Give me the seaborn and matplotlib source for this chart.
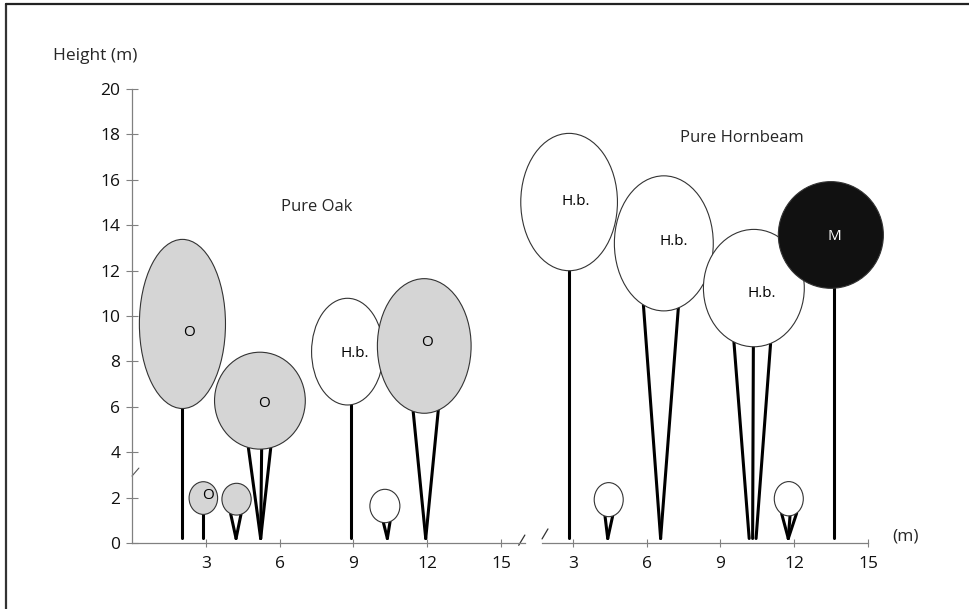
import numpy as np
import pandas as pd
import matplotlib
matplotlib.use('Agg')
import matplotlib.pyplot as plt
from matplotlib.patches import Ellipse
from matplotlib.lines import Line2D
import seaborn as sns

# Pure oak stand: crowns (centre, width, height in m), species, labels, stems
oak_crown_x = [2.05, 2.9, 4.25, 5.2, 8.76, 10.28, 11.88]
oak_crown_y = [9.65, 1.98, 1.93, 6.27, 8.43, 1.63, 8.68]
oak_crown_w = [3.5, 1.16, 1.19, 3.69, 2.92, 1.22, 3.81]
oak_crown_h = [7.45, 1.44, 1.4, 4.27, 4.7, 1.47, 5.93]
oak_species = ['oak', 'oak', 'oak', 'oak', 'hornbeam', 'hornbeam', 'oak']
oak_labels = ['O', 'O', '', 'O', 'H.b.', '', 'O']
oak_label_x = [2.3, 3.08, None, 5.37, 9.07, None, 11.99]
oak_label_y = [9.26, 2.08, None, 6.15, 8.36, None, 8.82]
oak_stem_top = [[2.02], [2.9], [4.01, 4.43], [4.73, 5.27, 5.64], [8.89], [10.22, 10.49], [11.43, 12.45]]
oak_stem_base = [[2.02], [2.9], [4.23, 4.23], [5.23, 5.23, 5.23], [8.89], [10.38, 10.38], [11.94, 11.94]]

# Pure hornbeam stand
hb_crown_x = [2.85, 4.46, 6.7, 10.36, 11.78, 13.49]
hb_crown_y = [15.02, 1.91, 13.2, 11.23, 1.95, 13.57]
hb_crown_w = [3.93, 1.18, 4.02, 4.1, 1.18, 4.27]
hb_crown_h = [6.05, 1.5, 5.95, 5.17, 1.51, 4.7]
hb_species = ['hornbeam', 'hornbeam', 'hornbeam', 'hornbeam', 'hornbeam', 'maple']
hb_labels = ['H.b.', '', 'H.b.', 'H.b.', '', 'M']
hb_label_x = [3.13, None, 7.09, 10.68, None, 13.62]
hb_label_y = [15.04, None, 13.27, 11.0, None, 13.52]
hb_stem_top = [[2.86], [4.31, 4.62], [5.87, 7.29], [9.55, 10.34, 11.04], [11.49, 11.83, 12.10], [13.63]]
hb_stem_base = [[2.86], [4.42, 4.42], [6.57, 6.57], [10.17, 10.31, 10.45], [11.76, 11.76, 11.76], [13.63]]

x_ticks = [3, 6, 9, 12, 15]
y_ticks = [0, 2, 4, 6, 8, 10, 12, 14, 16, 18, 20]
stem_ground = 0.2

fills = {'oak': '#d5d5d5', 'hornbeam': 'white', 'maple': '#111111'}
text_col = {'oak': 'black', 'hornbeam': 'black', 'maple': 'white'}

sns.set_theme(style='white')
plt.rcParams['font.family'] = ['Open Sans', 'DejaVu Sans']

fig = plt.figure(figsize=(9.69, 6.09), dpi=100)
ax_oak = fig.add_axes([132 / 969, 66 / 609, 393.6 / 969, 454 / 609])
ax_hb = fig.add_axes([499 / 969, 66 / 609, 418.2 / 969, 454 / 609])
for ax in (ax_oak, ax_hb):
    ax.patch.set_alpha(0)


def draw_stand(ax, cx, cy, cw, ch, species, labels, lx, ly, tops, bases):
    # stems as a long table, one unit per stem
    rows = []
    sid = 0
    for i in range(len(cx)):
        for tx, bx in zip(tops[i], bases[i]):
            rel = 1 - (2 * (tx - cx[i]) / cw[i]) ** 2
            ty = cy[i] - ch[i] / 2 * np.sqrt(max(rel, 0))
            rows.append({'x': tx, 'y': ty, 'stem': sid})
            rows.append({'x': bx, 'y': stem_ground, 'stem': sid})
            sid += 1
    stems = pd.DataFrame(rows)
    sns.lineplot(data=stems, x='x', y='y', units='stem', estimator=None, sort=False,
                 color='black', linewidth=2.2, ax=ax, legend=False, zorder=2)
    for i in range(len(cx)):
        e = Ellipse((cx[i], cy[i]), cw[i], ch[i], facecolor=fills[species[i]],
                    edgecolor='#333333', linewidth=0.8, zorder=3 + i, clip_on=False)
        ax.add_patch(e)
        if labels[i]:
            ax.text(lx[i], ly[i], labels[i], ha='center', va='center', fontsize=11,
                    color=text_col[species[i]], zorder=20)
    ax.set_xlabel('')
    ax.set_ylabel('')


draw_stand(ax_oak, oak_crown_x, oak_crown_y, oak_crown_w, oak_crown_h, oak_species,
           oak_labels, oak_label_x, oak_label_y, oak_stem_top, oak_stem_base)
draw_stand(ax_hb, hb_crown_x, hb_crown_y, hb_crown_w, hb_crown_h, hb_species,
           hb_labels, hb_label_x, hb_label_y, hb_stem_top, hb_stem_base)

spine_col = '#808080'
ax_oak.set_xlim(0, 16)
ax_oak.set_ylim(0, 20)
ax_hb.set_xlim(0, 17)
ax_hb.set_ylim(0, 20)

sns.despine(ax=ax_oak)
sns.despine(ax=ax_hb, left=True)
ax_oak.spines['left'].set_bounds(0, 20)
ax_oak.spines['bottom'].set_bounds(0, 15.97)
ax_hb.spines['bottom'].set_bounds(1.75, 15)
for ax in (ax_oak, ax_hb):
    for s in ax.spines.values():
        s.set_color(spine_col)
        s.set_linewidth(0.9)
    ax.set_xticks(x_ticks)
    ax.tick_params(axis='x', direction='inout', length=6, width=0.8, color=spine_col,
                   pad=6, labelsize=12.5, labelcolor='#111111', bottom=True)

ax_oak.set_yticks(y_ticks)
ax_oak.tick_params(axis='y', direction='inout', length=8, width=0.8, color=spine_col,
                   pad=4.5, labelsize=12.5, labelcolor='#111111', left=True)
ax_hb.set_yticks([])

# break marks
ax_oak.plot([15.72, 15.97], [-0.1, 0.35], color='#333333', lw=0.9, clip_on=False)
ax_hb.plot([1.75, 1.99], [0.18, 0.62], color='#333333', lw=0.9, clip_on=False)
ax_oak.plot([0.0, 0.28], [2.95, 3.3], color='#555555', lw=0.8, clip_on=False)

ax_oak.text(7.52, 14.8, 'Pure Oak', ha='center', va='center', fontsize=12)
ax_hb.text(9.88, 17.84, 'Pure Hornbeam', ha='center', va='center', fontsize=12)
ax_hb.text(16.0, 0.3, '(m)', ha='left', va='center', fontsize=12.5)
fig.text(53 / 969, 1 - 56 / 609, 'Height (m)', ha='left', va='center', fontsize=12.5)

# scanned-page frame
fig.add_artist(Line2D([6 / 969, 6 / 969], [0, 1 - 4 / 609], transform=fig.transFigure,
                      color='#333333', lw=1.6))
fig.add_artist(Line2D([6 / 969, 1], [1 - 4 / 609, 1 - 4 / 609], transform=fig.transFigure,
                      color='#222222', lw=1.6))

fig.savefig('out.png', dpi=100)
